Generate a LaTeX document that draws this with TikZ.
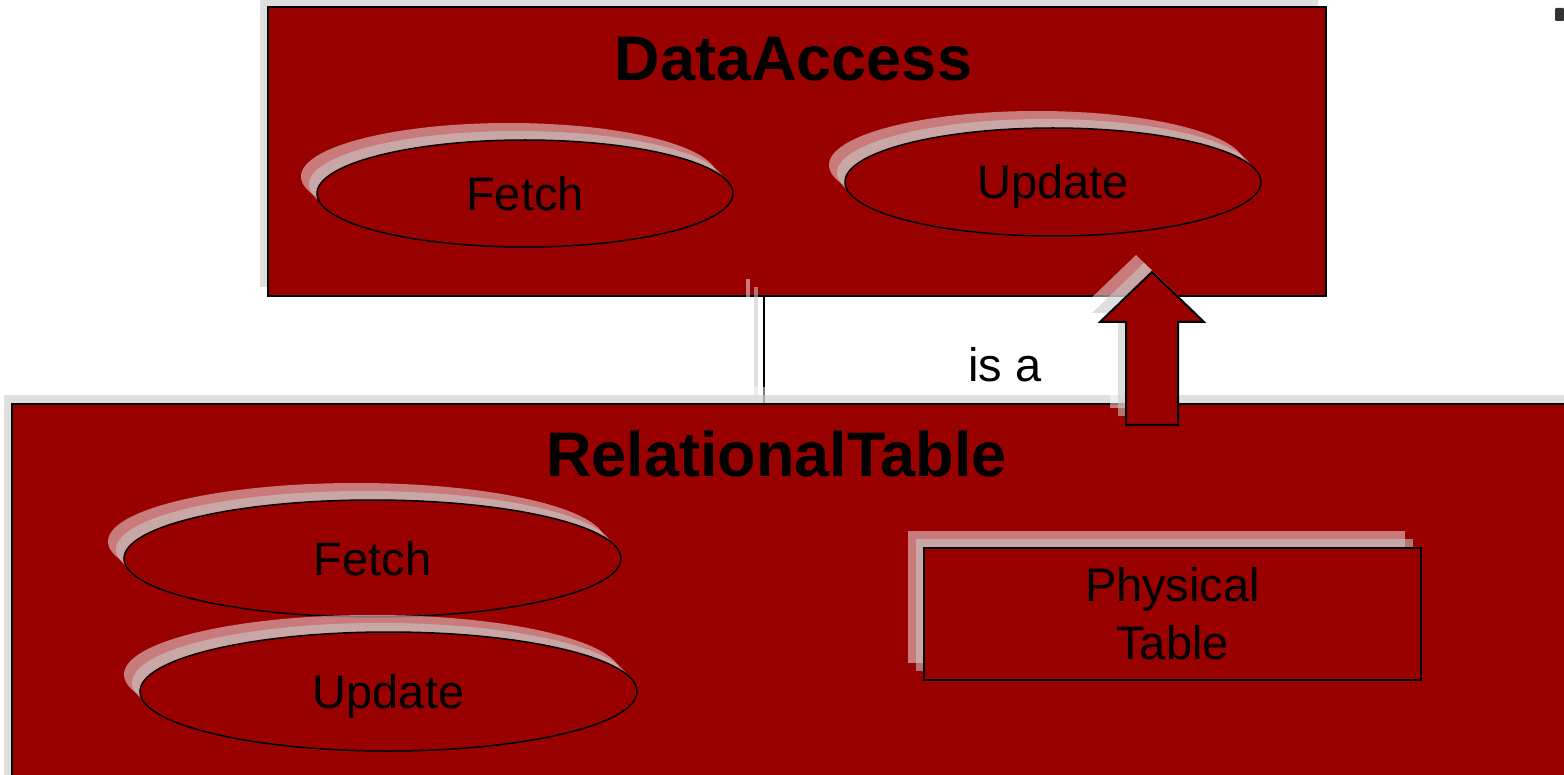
\documentclass[tikz,border=0pt]{standalone}
\usepackage{fontspec}
\setmainfont{Liberation Sans}
\usetikzlibrary{shapes.geometric,shadows}
\definecolor{boxred}{RGB}{153,0,0}
\definecolor{shgray}{RGB}{201,201,201}
\definecolor{markgray}{RGB}{51,51,51}
\tikzset{
  farshadow/.style={general shadow={shadow xshift=-16pt, shadow yshift=17pt, fill=white, opacity=0.48, draw=none}},
  nearshadow/.style={general shadow={shadow xshift=-8pt, shadow yshift=9pt, fill=shgray, opacity=0.58, draw=none}},
  shadowed/.style={farshadow, nearshadow},
  bigbox/.style={rectangle, draw=black, line width=2pt, fill=boxred, inner sep=0pt, shadowed},
  oval/.style={ellipse, draw=black, line width=1.5pt, fill=boxred, inner sep=0pt, shadowed,
    font=\fontsize{47}{56}\selectfont, text height=34pt, text depth=0pt},
  tablebox/.style={rectangle, draw=black, line width=2pt, fill=boxred, inner sep=0pt, shadowed,
    align=center, font=\fontsize{47}{58}\selectfont},
  title/.style={anchor=base, inner sep=0pt, font=\fontsize{63}{63}\selectfont\bfseries},
  label/.style={anchor=base, inner sep=0pt, font=\fontsize{47}{56}\selectfont},
  link/.style={draw=black, line width=2pt},
  farline/.style={draw=white, opacity=0.48, line width=4pt},
  nearline/.style={draw=shgray, opacity=0.58, line width=4pt},
  blockarrow/.style={draw=black, line width=2pt, fill=boxred, line join=miter, shadowed}
}
\begin{document}
\begin{tikzpicture}[x=1pt,y=-1pt]
\useasboundingbox (0,0) rectangle (1564,775);
\clip (0,0) rectangle (1564,775);
\fill[white] (0,0) rectangle (1564,775);

% top class box
\node[bigbox, minimum width=1058pt, minimum height=289pt] (da) at (797,151.5) {};
\node[title] (datitle) at (793.5,81) {DataAccess};
\node[oval, minimum width=416pt, minimum height=107pt] (dafetch) at (525,193.5) {Fetch};
\node[oval, minimum width=416pt, minimum height=108pt] (daupdate) at (1053,182) {Update};

% connector line with its shadows
\coordinate (lt) at (764,296);
\coordinate (lb) at (764,404);
\draw[farline] ([xshift=-16pt,yshift=17pt]lt) -- ([xshift=-16pt,yshift=17pt]lb);
\draw[nearline] ([xshift=-8pt,yshift=9pt]lt) -- ([xshift=-8pt,yshift=9pt]lb);
\draw[link] (lt) -- (lb);

% bottom class box
\node[bigbox, minimum width=1568pt, minimum height=386pt] (rt) at (796,597) {};
\node[title] (rttitle) at (776.5,476) {RelationalTable};
\node[oval, minimum width=497pt, minimum height=117pt] (rtfetch) at (372.5,558.5) {Fetch};
\node[oval, minimum width=497pt, minimum height=119pt] (rtupdate) at (388.5,691.5) {Update};
\node[tablebox, minimum width=497pt, minimum height=132pt] (phys) at (1172.5,614) {Physical\\Table};

% "is a" block arrow
\coordinate (arrbase) at (1152,425);
\coordinate (arrtip) at (1152,272);
\path[blockarrow] (arrbase) ++(-26,0) -- ++(0,-103) -- ++(-26,0) -- (arrtip) -- ++(52,50) -- ++(-26,0) -- ++(0,103) -- cycle;
\node[label] (isa) at (1005,382) {is a};

% small mark at top right
\fill[markgray, rounded corners=1pt] (1555,8) rectangle (1564,21);
\end{tikzpicture}
\end{document}
